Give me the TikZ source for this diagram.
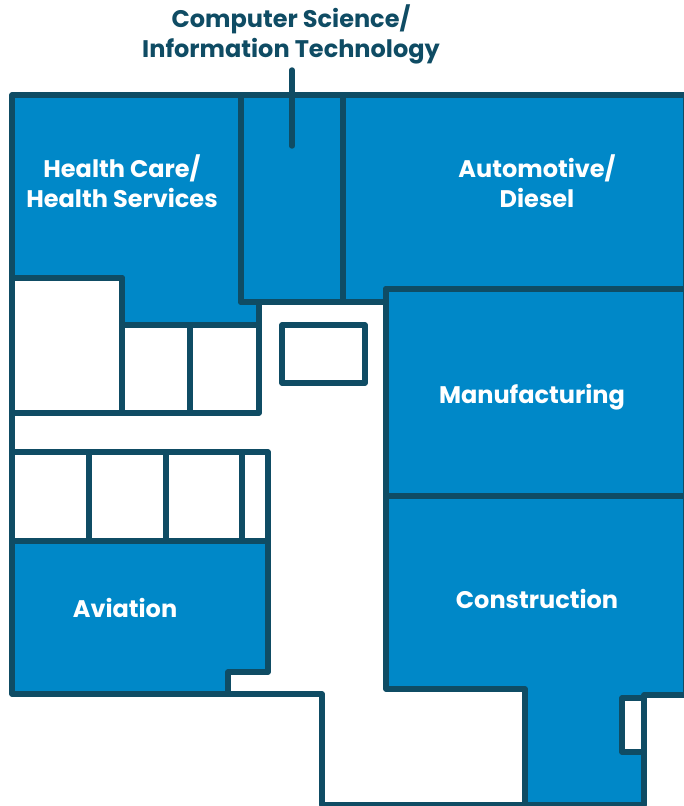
\documentclass[tikz,border=0pt]{standalone}
\usepackage{fontspec}
\setmainfont{Poppins}
\definecolor{roomblue}{HTML}{0088C8}
\definecolor{wallteal}{HTML}{0F4C64}
\tikzset{
  wall/.style={draw=wallteal, line width=5.4pt, line join=round, line cap=round},
  dept/.style={wall, fill=roomblue},
  room/.style={wall, fill=white},
  deptlabel/.style={text=white, font=\bfseries\fontsize{24}{30}\selectfont, align=center},
}
\begin{document}
\begin{tikzpicture}[x=1pt, y=-1pt]
    \useasboundingbox (0, 0) rectangle (683, 806);

    % Blue departments
    \path [dept] (12, 95) -- (241, 95) -- (241, 302) -- (259, 302) -- (259, 325)
                 -- (122, 325) -- (122, 278) -- (12, 278) -- cycle;
    \path [dept] (343, 95) -- (686, 95) -- (686, 289) -- (386, 289) -- (386, 302)
                 -- (343, 302) -- cycle;
    \path [dept] (241, 95) rectangle (343, 302);
    \path [dept] (386, 289) rectangle (686, 496);
    \path [dept] (386, 496) -- (686, 496) -- (686, 695) -- (644, 695) -- (644, 805)
                 -- (525, 805) -- (525, 689) -- (386, 689) -- cycle;
    \path [dept] (12, 541) -- (268, 541) -- (268, 672) -- (228, 672) -- (228, 694)
                 -- (12, 694) -- cycle;

    % White rooms, upper left
    \path [room] (12, 278) rectangle (122, 413);
    \foreach \a/\b in {122/190, 190/259} {
      \path [room] (\a, 325) rectangle (\b, 413);
    }
    \path [room] (282, 325) rectangle (365, 383);

    % White rooms, lower left
    \foreach \a/\b in {12/89, 89/166, 166/242, 242/268} {
      \path [room] (\a, 452) rectangle (\b, 541);
    }

    % Outside walls
    \draw [wall] (12, 413) -- (12, 452);
    \draw [wall] (228, 694) -- (322, 694) -- (322, 805) -- (525, 805);

    % Closet beside the stair
    \path [room] (622, 698) rectangle (644, 752);

    % Labels
    \node [deptlabel] (health) at (122, 181) {Health Care/\\Health Services};
    \node [deptlabel] (auto) at (537, 181) {Automotive/\\Diesel};
    \node [deptlabel] (manuf) at (532, 397) {Manufacturing};
    \node [deptlabel] (constr) at (537, 599) {Construction};
    \node [deptlabel] (aviation) at (125, 608) {Aviation};
    \node [deptlabel, text=wallteal] (compsci) at (291, 34)
          {Computer Science/\\Information Technology};

    % Leader
    \coordinate (lineTop) at (292, 70);
    \coordinate (lineEnd) at (292, 146);
    \draw [wall] (lineTop) -- (lineEnd);
\end{tikzpicture}
\end{document}
